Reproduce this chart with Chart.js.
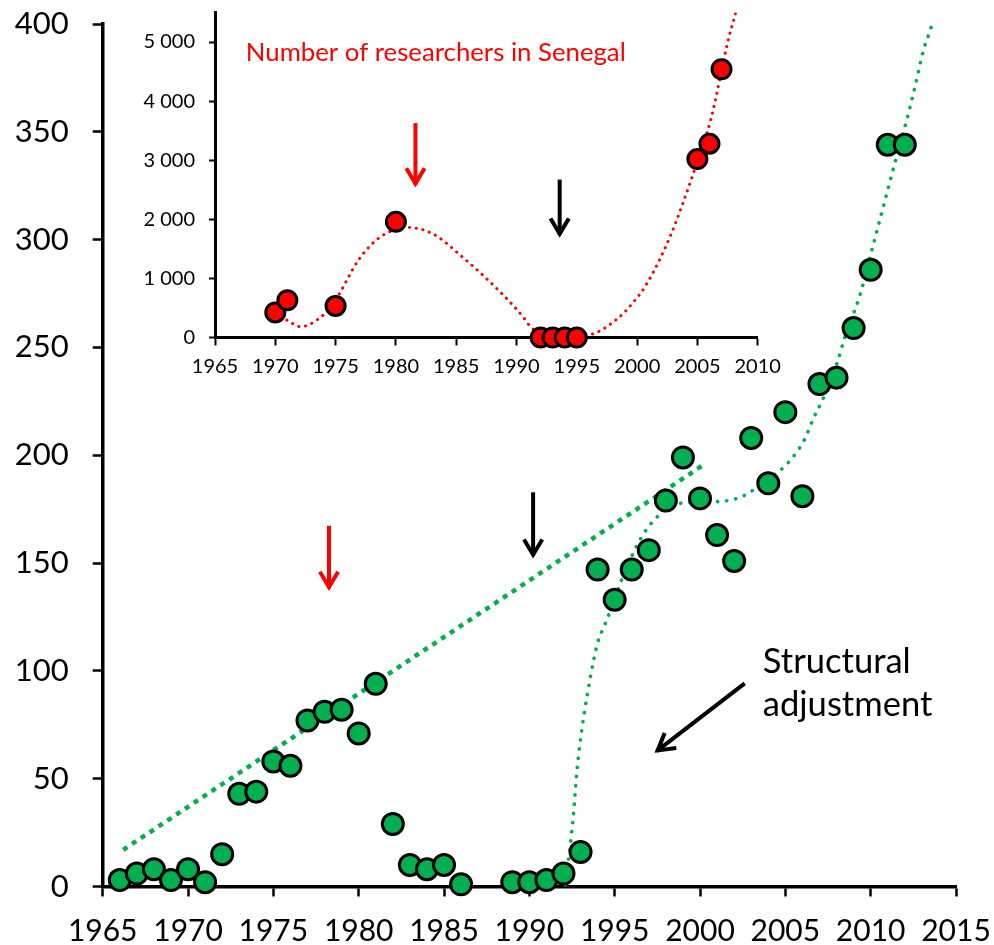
<!DOCTYPE html>
<html lang="en">
<head>
<meta charset="utf-8">
<title>Researchers in Senegal</title>
<script src="https://cdn.jsdelivr.net/npm/chart.js@4.4.0/dist/chart.umd.min.js"></script>
<style>
  body { margin: 0; background: #fff; }
  #wrap { position: relative; width: 994px; height: 945px; }
  #main, #inset { position: absolute; left: 0; top: 0; }
</style>
</head>
<body>
<div id="wrap">
  <canvas id="main" width="994" height="945"></canvas>
  <canvas id="inset" width="800" height="400"></canvas>
</div>
<script>
// ---- main chart data (green) ----
const years = [1966, 1967, 1968, 1969, 1970, 1971, 1972, 1973, 1974, 1975, 1976,
  1977, 1978, 1979, 1980, 1981, 1982, 1983, 1984, 1985, 1986,
  1989, 1990, 1991, 1992, 1993, 1994, 1995, 1996, 1997, 1998, 1999, 2000,
  2001, 2002, 2003, 2004, 2005, 2006, 2007, 2008, 2009, 2010, 2011, 2012];
const counts = [3, 6, 8, 3, 8, 2, 15, 43, 44, 58, 56,
  77, 81, 82, 71, 94, 29, 10, 8, 10, 1,
  2, 2, 3, 6, 16, 147, 133, 147, 156, 179, 199, 180,
  163, 151, 208, 187, 220, 181, 233, 236, 259, 286, 344, 344];

// dotted trend lines
const linTrendYears = [1966.2, 2000.2];
const linTrendValues = [17, 195.5];
const curveYears = [1992.1, 1992.57, 1992.77, 1992.96, 1993.25, 1993.55, 1994.0, 1994.4, 1994.7,
  1995.5, 1996.5, 1997.5, 1998.8, 2001.0, 2002.5, 2003.9, 2005.1, 2006.1, 2006.7, 2007.2,
  2008.0, 2008.5, 2009.4, 2010.1, 2010.8, 2011.5, 2012.1, 2012.6, 2013.1, 2013.6, 2013.9];
const curveValues = [0, 32, 52, 66, 82, 96, 113, 121, 127,
  144, 161, 171.5, 177.7, 178.5, 181, 188.5, 196, 207, 218, 226,
  242, 255, 275, 296, 317, 338, 355, 371, 388, 400, 410];

// ---- inset data (red) ----
const senYears = [1970, 1971, 1975, 1980, 1992, 1993, 1994, 1995, 2005, 2006, 2007];
const senResearchers = [425, 630, 535, 1960, 0, 0, 0, 0, 3020, 3280, 4540];
const senCurveYears = [1970.95, 1972.1, 1973.8, 1974.8, 1977.0, 1978.7, 1981.0, 1983.1, 1985.3,
  1988.8, 1990.7, 1991.2, 1993.5, 1996.0, 1998.4, 1999.7, 2000.8, 2002.8, 2004.6, 2006.1,
  2007.6, 2008.2, 2008.5];
const senCurveValues = [295, 183, 350, 573, 1340, 1700, 1862, 1750, 1400,
  740, 310, 170, 20, 45, 323, 600, 907, 1740, 2740, 3683,
  5073, 5517, 5800];

// tick labels
const mainXTicks = [1965, 1970, 1975, 1980, 1985, 1990, 1995, 2000, 2005, 2010, 2015];
const mainYTicks = [0, 50, 100, 150, 200, 250, 300, 350, 400];
const insetXTicks = [1965, 1970, 1975, 1980, 1985, 1990, 1995, 2000, 2005, 2010];
const insetYTicks = [0, 1000, 2000, 3000, 4000, 5000];

const mainTitle = 'Number of researchers in Senegal';
const noteLines = ['Structural', 'adjustment'];

const FONT = 'Lato, "Open Sans", sans-serif';
const pts = (xs, ys) => xs.map((x, i) => ({ x: x, y: ys[i] }));
const setTicks = list => s => { s.ticks = list.map(v => ({ value: v })); };

function arrow(ctx, x1, y1, x2, y2, color, width, head) {
  const a = Math.atan2(y2 - y1, x2 - x1);
  const sp = 0.45;
  ctx.save();
  ctx.strokeStyle = color;
  ctx.lineWidth = width;
  ctx.beginPath();
  ctx.moveTo(x1, y1);
  ctx.lineTo(x2 - Math.cos(a) * width * 0.6, y2 - Math.sin(a) * width * 0.6);
  ctx.stroke();
  ctx.lineJoin = 'miter';
  ctx.beginPath();
  ctx.moveTo(x2 - head * Math.cos(a - sp), y2 - head * Math.sin(a - sp));
  ctx.lineTo(x2 - Math.cos(a) * width * 0.9, y2 - Math.sin(a) * width * 0.9);
  ctx.lineTo(x2 - head * Math.cos(a + sp), y2 - head * Math.sin(a + sp));
  ctx.stroke();
  ctx.restore();
}

function fitFont(ctx, text, width) {
  ctx.font = '24px ' + FONT;
  return 24 * width / ctx.measureText(text).width;
}

// annotations in data units
const mainNotes = {
  id: 'mainNotes',
  afterDatasetsDraw(chart) {
    const { ctx, scales: { x, y } } = chart;
    arrow(ctx, x.getPixelForValue(1978.26), y.getPixelForValue(167.3),
      x.getPixelForValue(1978.26), y.getPixelForValue(137.2), '#FF0000', 4, 21);
    arrow(ctx, x.getPixelForValue(1990.22), y.getPixelForValue(182.8),
      x.getPixelForValue(1990.22), y.getPixelForValue(152.2), '#000', 4, 21);
    arrow(ctx, x.getPixelForValue(2002.62), y.getPixelForValue(94.2),
      x.getPixelForValue(1997.35), y.getPixelForValue(62.1), '#000', 4, 22);
    const size = fitFont(ctx, noteLines[0], 148);
    ctx.save();
    ctx.font = size + 'px ' + FONT;
    ctx.fillStyle = '#000';
    ctx.textBaseline = 'alphabetic';
    ctx.fillText(noteLines[0], x.getPixelForValue(2003.68), y.getPixelForValue(99));
    ctx.fillText(noteLines[1], x.getPixelForValue(2003.68), y.getPixelForValue(79));
    ctx.restore();
  }
};

const insetNotes = {
  id: 'insetNotes',
  afterDatasetsDraw(chart) {
    const { ctx, scales: { x, y } } = chart;
    arrow(ctx, x.getPixelForValue(1981.62), y.getPixelForValue(3628),
      x.getPixelForValue(1981.62), y.getPixelForValue(2545), '#FF0000', 4, 21);
    arrow(ctx, x.getPixelForValue(1993.58), y.getPixelForValue(2673),
      x.getPixelForValue(1993.58), y.getPixelForValue(1695), '#000', 4, 21);
    const size = fitFont(ctx, mainTitle, 380);
    ctx.save();
    ctx.font = size + 'px ' + FONT;
    ctx.fillStyle = '#FF0000';
    ctx.textBaseline = 'alphabetic';
    ctx.fillText(mainTitle, x.getPixelForValue(1967.56), y.getPixelForValue(4673));
    ctx.restore();
  }
};

function axisStyle(tickLen, tickW, borderW) {
  return {
    grid: { display: true, drawOnChartArea: false, drawTicks: true, tickLength: tickLen,
      tickWidth: tickW, tickColor: '#000' },
    border: { display: true, color: '#000', width: borderW }
  };
}

new Chart(document.getElementById('main'), {
  type: 'scatter',
  data: {
    datasets: [
      { data: pts(years, counts), backgroundColor: '#00B050', borderColor: '#000',
        borderWidth: 3, pointRadius: 10.5, pointHoverRadius: 10.5, clip: false, order: 0 },
      { data: pts(linTrendYears, linTrendValues), showLine: true, pointRadius: 0,
        borderColor: '#00B050', borderWidth: 4.5, borderDash: [5, 5.6], borderCapStyle: 'butt', order: 1 },
      { data: pts(curveYears, curveValues), showLine: true, pointRadius: 0,
        borderColor: '#00B050', borderWidth: 3.6, borderDash: [0.2, 9], borderCapStyle: 'round',
        cubicInterpolationMode: 'monotone', order: 1 }
    ]
  },
  options: {
    responsive: false, animation: false, devicePixelRatio: 1,
    layout: { padding: { top: 24, right: 38, left: 0, bottom: 0 } },
    plugins: { legend: { display: false }, tooltip: { enabled: false } },
    scales: {
      x: Object.assign({
        type: 'linear', min: 1965, max: 2015,
        afterBuildTicks: setTicks(mainXTicks),
        ticks: { color: '#000', font: { family: FONT, size: 30 }, padding: 17,
          maxRotation: 0, autoSkip: false, callback: v => String(v) },
        afterFit: s => { s.height = 58.5; s.paddingLeft = 0; s.paddingRight = 0; }
      }, axisStyle(10, 2.5, 3.5)),
      y: Object.assign({
        type: 'linear', min: 0, max: 400,
        afterBuildTicks: setTicks(mainYTicks),
        ticks: { color: '#000', font: { family: FONT, size: 31 }, padding: 24,
          callback: v => String(v) },
        afterFit: s => { s.width = 102.7; s.paddingTop = 0; s.paddingBottom = 0; }
      }, axisStyle(10, 2.5, 3.5))
    }
  },
  plugins: [mainNotes]
});

new Chart(document.getElementById('inset'), {
  type: 'scatter',
  data: {
    datasets: [
      { data: pts(senYears, senResearchers), backgroundColor: '#FF0000', borderColor: '#000',
        borderWidth: 3, pointRadius: 9.5, pointHoverRadius: 9.5, clip: false, order: 0 },
      { data: pts(senCurveYears, senCurveValues), showLine: true, pointRadius: 0,
        borderColor: '#FF0000', borderWidth: 3, borderDash: [0.2, 6.6], borderCapStyle: 'round',
        cubicInterpolationMode: 'monotone', order: 1 }
    ]
  },
  options: {
    responsive: false, animation: false, devicePixelRatio: 1,
    layout: { padding: { top: 7.7, right: 42.3, left: 0, bottom: 0 } },
    plugins: { legend: { display: false }, tooltip: { enabled: false } },
    scales: {
      x: Object.assign({
        type: 'linear', min: 1965, max: 2010,
        afterBuildTicks: setTicks(insetXTicks),
        ticks: { color: '#000', font: { family: FONT, size: 20 }, padding: 9,
          maxRotation: 0, autoSkip: false, callback: v => String(v) },
        afterFit: s => { s.height = 62.5; s.paddingLeft = 0; s.paddingRight = 0; }
      }, axisStyle(8, 2, 3)),
      y: Object.assign({
        type: 'linear', min: 0, max: 5500,
        afterBuildTicks: setTicks(insetYTicks),
        ticks: { color: '#000', font: { family: FONT, size: 20 }, padding: 14,
          callback: v => v === 0 ? '0' : (v / 1000) + ' 000' },
        afterFit: s => { s.width = 215; s.paddingTop = 0; s.paddingBottom = 0; }
      }, axisStyle(6, 2, 3))
    }
  },
  plugins: [insetNotes]
});
</script>
</body>
</html>
